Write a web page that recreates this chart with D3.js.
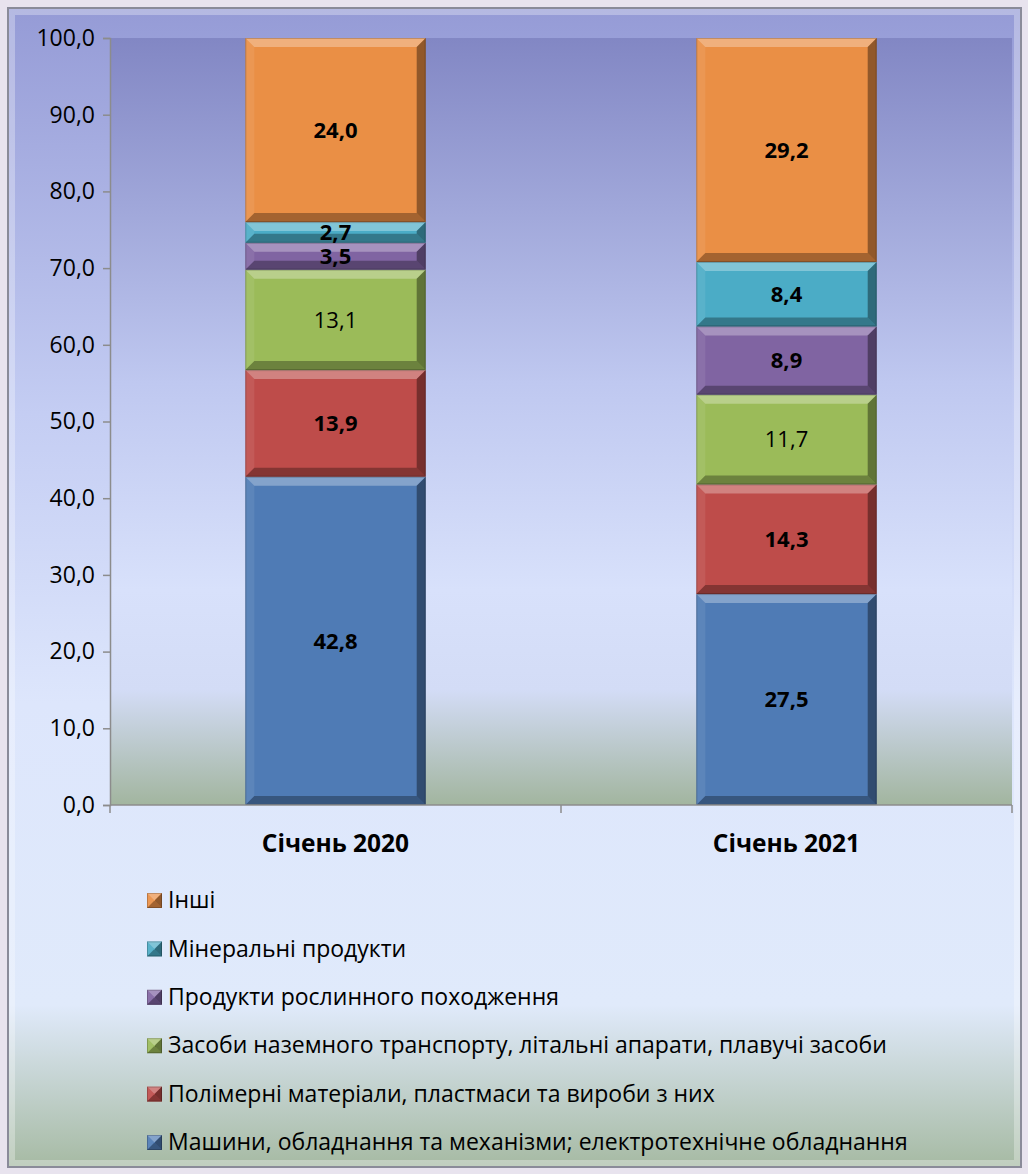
<!DOCTYPE html>
<html>
<head>
<meta charset="utf-8">
<script src="https://cdn.jsdelivr.net/npm/d3@7"></script>
<style>
  body { margin: 0; background: #e8e3ee; }
  svg { display: block; font-family: "Open Sans", sans-serif; }
</style>
</head>
<body>
<svg id="chart"></svg>
<script>
// Data
const categories = ["Січень 2020", "Січень 2021"];
const seriesNames = [
	"Машини, обладнання та механізми; електротехнічне обладнання",
	"Полімерні матеріали, пластмаси та вироби з них",
	"Засоби наземного транспорту, літальні апарати, плавучі засоби",
	"Продукти рослинного походження",
	"Мінеральні продукти",
	"Інші"
];
const values2020 = [42.8, 13.9, 13.1, 3.5, 2.7, 24.0];
const values2021 = [27.5, 14.3, 11.7, 8.9, 8.4, 29.2];
const seriesColors = ["#4f7bb5", "#be4c4a", "#9bbb59", "#8064a2", "#4bacc6", "#ea8f45"];
const boldLabel = [true, true, false, true, true, true];
const yTicks = [0, 10, 20, 30, 40, 50, 60, 70, 80, 90, 100];

const svgWidth = 1028;
const svgHeight = 1174;
const plot = {left: 110, right: 1012, top: 38, bottom: 805};

const svg = d3.select('#chart')
	.attr('width', svgWidth)
	.attr('height', svgHeight);

const defs = svg.append('defs');

const gradient = (id, stops) => {
	const g = defs.append('linearGradient').attr('id', id)
		.attr('x1', 0).attr('y1', 0).attr('x2', 0).attr('y2', 1);
	stops.forEach(s => g.append('stop').attr('offset', s[0]).attr('stop-color', s[1]));
};

gradient('bgGrad', [[0, '#959bd6'], [0.35, '#c4cdf3'], [0.6, '#dde6fc'], [0.86, '#e0eafb'], [1, '#a6baa3']]);
gradient('plotGrad', [[0, '#8287c4'], [0.45, '#bfc8f0'], [0.72, '#d8e1fb'], [0.85, '#d3dcf6'], [1, '#a2b59f']]);

// Chart frame
svg.append('rect')
	.attr('x', 8).attr('y', 8)
	.attr('width', 1013).attr('height', 1159)
	.attr('fill', 'url(#bgGrad)')
	.attr('stroke', '#8a8b99')
	.attr('stroke-width', 2);

// frame bevel
svg.append('rect')
	.attr('x', 12).attr('y', 12)
	.attr('width', 1005).attr('height', 1151)
	.attr('fill', 'none')
	.attr('stroke', '#ffffff')
	.attr('stroke-opacity', 0.3)
	.attr('stroke-width', 6);

const scaleX = d3.scaleBand()
	.domain(categories)
	.range([plot.left, plot.right])
	.paddingInner(0.6)
	.paddingOuter(0.3);

const scaleY = d3.scaleLinear()
	.domain([0, 100])
	.range([plot.bottom, plot.top]);

// Plot area
svg.append('rect')
	.attr('x', plot.left).attr('y', plot.top)
	.attr('width', plot.right - plot.left)
	.attr('height', plot.bottom - plot.top)
	.attr('fill', 'url(#plotGrad)');

// Stack data
const table = categories.map((c, i) => {
	const row = {category: c};
	const vals = i === 0 ? values2020 : values2021;
	seriesNames.forEach((s, j) => row[s] = vals[j]);
	return row;
});
const stacked = d3.stack().keys(seriesNames)(table);

// Bevelled box
const bevelBox = (g, x, y, w, h, color, b) => {
	b = Math.min(b, h / 2, w / 2);
	g.append('rect')
		.attr('x', x).attr('y', y).attr('width', w).attr('height', h)
		.attr('fill', color);
	const faces = [
		{pts: [[x, y], [x + w, y], [x + w - b, y + b], [x + b, y + b]], c: '#fff', o: 0.3},
		{pts: [[x, y], [x + b, y + b], [x + b, y + h - b], [x, y + h]], c: '#fff', o: 0.08},
		{pts: [[x + w, y], [x + w, y + h], [x + w - b, y + h - b], [x + w - b, y + b]], c: '#000', o: 0.38},
		{pts: [[x, y + h], [x + b, y + h - b], [x + w - b, y + h - b], [x + w, y + h]], c: '#000', o: 0.3}
	];
	faces.forEach(f => g.append('polygon')
		.attr('points', f.pts.map(p => p.join(',')).join(' '))
		.attr('fill', f.c)
		.attr('fill-opacity', f.o));
	g.append('rect')
		.attr('x', x + 0.5).attr('y', y + 0.5).attr('width', w - 1).attr('height', h - 1)
		.attr('fill', 'none')
		.attr('stroke', '#000')
		.attr('stroke-opacity', 0.2);
};

// Bars
stacked.forEach((layer, j) => {
	layer.forEach(d => {
		const x = scaleX(d.data.category);
		const y0 = scaleY(d[1]);
		const h = scaleY(d[0]) - scaleY(d[1]);
		bevelBox(svg.append('g'), x, y0, scaleX.bandwidth(), h, seriesColors[j], 9);
	});
});

// Labels
stacked.forEach((layer, j) => {
	svg.append('g').selectAll('text')
		.data(layer)
		.join('text')
		.attr('x', d => scaleX(d.data.category) + scaleX.bandwidth() / 2)
		.attr('y', d => scaleY((d[0] + d[1]) / 2))
		.attr('dy', '0.36em')
		.attr('text-anchor', 'middle')
		.attr('font-size', 22)
		.attr('font-weight', boldLabel[j] ? 700 : 400)
		.attr('fill', '#000')
		.text(d => (d[1] - d[0]).toFixed(1).replace('.', ','));
});

// y-axis
svg.append('g')
	.attr('transform', `translate(${plot.left}, 0)`)
	.call(d3.axisLeft(scaleY)
		.tickValues(yTicks)
		.tickSize(7)
		.tickPadding(8)
		.tickFormat(d => d.toFixed(1).replace('.', ',')))
	.call(g => g.select('.domain').attr('stroke', '#8c8c8c').attr('stroke-width', 1.5))
	.call(g => g.selectAll('.tick line').attr('stroke', '#8c8c8c').attr('stroke-width', 1.5))
	.call(g => g.selectAll('.tick text').attr('font-size', 23).attr('fill', '#000')
		.attr('font-family', '"Open Sans", sans-serif'));

// x-axis
const xAxis = svg.append('g')
	.attr('transform', `translate(0, ${plot.bottom})`);
xAxis.append('line')
	.attr('x1', plot.left).attr('x2', plot.right)
	.attr('stroke', '#8c8c8c').attr('stroke-width', 1.5);
const step = scaleX.step();
const dividers = [plot.left].concat(categories.map(c => scaleX(c) + scaleX.bandwidth() / 2 + step / 2));
xAxis.selectAll('line.div')
	.data(dividers)
	.join('line')
	.attr('class', 'div')
	.attr('x1', d => d).attr('x2', d => d)
	.attr('y1', 0).attr('y2', 8)
	.attr('stroke', '#8c8c8c').attr('stroke-width', 1.5);
xAxis.selectAll('text')
	.data(categories)
	.join('text')
	.attr('x', d => scaleX(d) + scaleX.bandwidth() / 2)
	.attr('y', 47)
	.attr('text-anchor', 'middle')
	.attr('font-size', 24.5)
	.attr('font-weight', 700)
	.text(d => d);

// Legend (reverse order like stack)
const legendOrder = seriesNames.map((s, i) => i).reverse();
const legend = svg.append('g')
	.attr('transform', 'translate(147, 900)');
legendOrder.forEach((j, k) => {
	const row = legend.append('g')
		.attr('transform', `translate(0, ${k * 48.4})`);
	bevelBox(row, 0, -7, 15, 15, seriesColors[j], 7);
	row.append('text')
		.attr('x', 21)
		.attr('y', 0)
		.attr('dy', '0.36em')
		.attr('font-size', 23)
		.text(seriesNames[j]);
});
</script>
</body>
</html>
